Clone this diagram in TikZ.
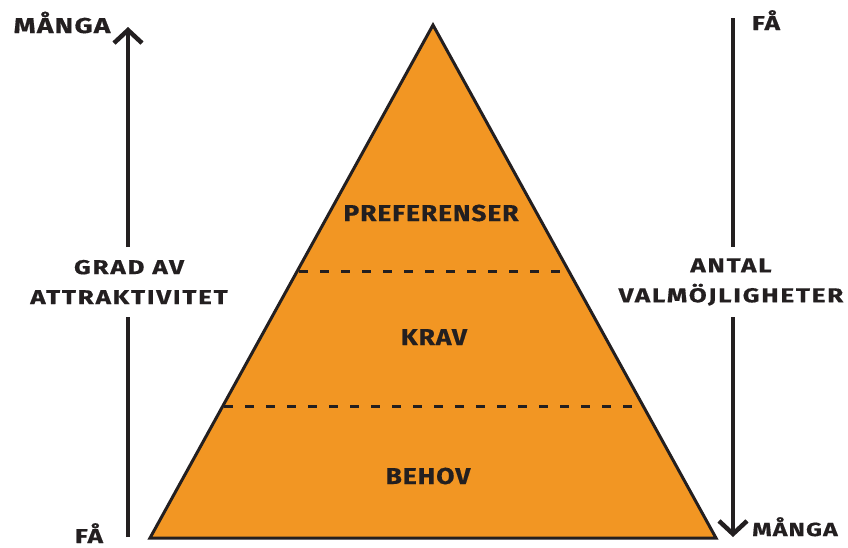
\documentclass[tikz,border=0pt]{standalone}
\usepackage{fontspec}
\setmainfont{Fira Sans}[FakeStretch=1.3, LetterSpace=6, FakeBold=0.6]
\newfontfamily\sidefont{Fira Sans}[FakeStretch=1.3, LetterSpace=9, FakeBold=0.6]
\newfontfamily\pyrfont{Fira Sans}[FakeStretch=1.15, LetterSpace=4, FakeBold=0.6]
\usetikzlibrary{arrows.meta}
\definecolor{pyr}{HTML}{F29623}
\definecolor{ink}{HTML}{231F20}
\begin{document}
\begin{tikzpicture}[x=1pt,y=-1pt,
  lbl/.style={text=ink, inner sep=0pt, anchor=base},
  pyrlbl/.style={lbl, font=\pyrfont\bfseries\fontsize{23}{26}\selectfont},
  side/.style={text=ink, inner sep=0pt, align=center, minimum height=70pt,
    font=\sidefont\bfseries\fontsize{20}{30}\selectfont},
  axis/.style={draw=ink, line width=4.5pt},
  tipbarb/.style={-{Straight Barb[length=13pt,width=28pt,line width=4.5pt]}},
  level/.style={draw=ink, line width=3pt, dash pattern=on 9pt off 12pt}]
\useasboundingbox (0,0) rectangle (848,547);
% pyramid
\coordinate (apex) at (433,25);
\coordinate (bl) at (150,538);
\coordinate (br) at (716,538);
\draw[fill=pyr, draw=ink, line width=3pt, line join=miter] (apex) -- (br) -- (bl) -- cycle;
\coordinate (d1l) at (299,271);
\coordinate (d1r) at (566,271);
\coordinate (d2l) at (224,406);
\coordinate (d2r) at (641,406);
\draw[level] (d1l) -- (d1r);
\draw[level] (d2l) -- (d2r);
\node[pyrlbl] (pref) at (431,221) {PREFERENSER};
\node[pyrlbl] (krav) at (434,345) {KRAV};
\node[pyrlbl] (behov) at (428,484) {BEHOV};
% left axis
\node[side] (gL) at (129,282) {GRAD AV\\ATTRAKTIVITET};
\coordinate (lbot) at (128,537);
\coordinate (ltop) at (128,27);
\draw[axis] (lbot) -- (128,317);
\draw[axis, tipbarb] (128,247) -- (ltop);
\node[lbl, font=\bfseries\fontsize{21.5}{22}\selectfont] (mL) at (62,33) {MÅNGA};
\node[lbl, font=\bfseries\fontsize{20}{22}\selectfont] (fL) at (89,543) {FÅ};
% right axis
\node[side] (gR) at (731,282) {ANTAL\\VALMÖJLIGHETER};
\coordinate (rtop) at (733,18);
\coordinate (rbot) at (733,537);
\draw[axis] (rtop) -- (733,247);
\draw[axis, tipbarb] (733,317) -- (rbot);
\node[lbl, font=\bfseries\fontsize{20}{22}\selectfont] (fR) at (766,30) {FÅ};
\node[lbl, font=\bfseries\fontsize{19}{22}\selectfont] (mR) at (795,536) {MÅNGA};
\end{tikzpicture}
\end{document}
